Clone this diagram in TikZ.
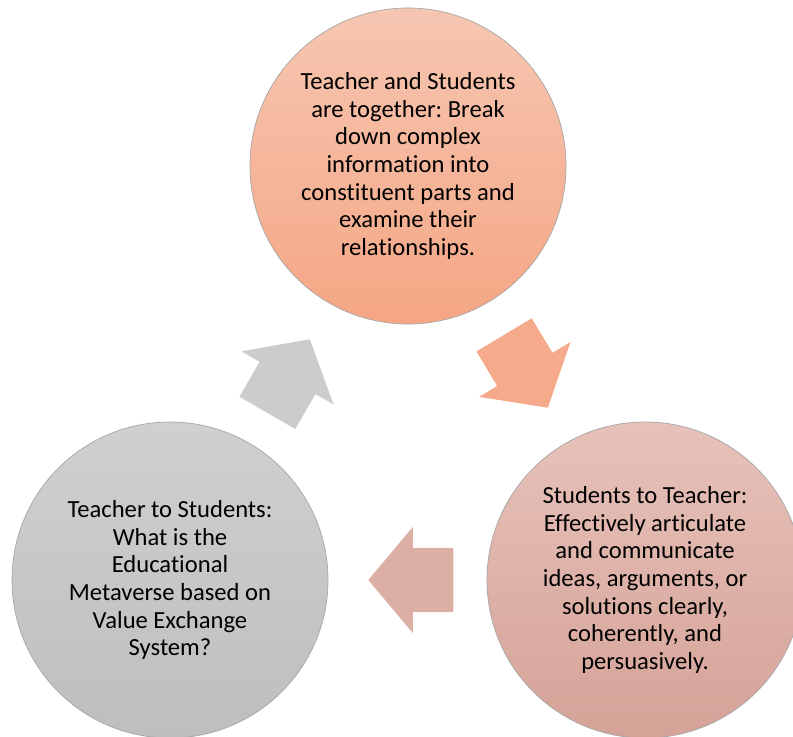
\documentclass[tikz,border=0pt]{standalone}
\usepackage{fontspec}
\setmainfont[Ligatures=NoCommon]{Carlito}
\usetikzlibrary{shapes,arrows}

\definecolor{peachtop}{RGB}{246,198,178}
\definecolor{peachbot}{RGB}{245,166,132}
\definecolor{rosetop}{RGB}{231,194,186}
\definecolor{rosebot}{RGB}{213,162,151}
\definecolor{greytop}{RGB}{208,208,208}
\definecolor{greybot}{RGB}{190,190,190}

\tikzset{
  stage/.style={circle, minimum size=9.48cm, inner sep=0pt, align=center,
    draw=black!35, line width=0.6pt,
    font=\fontsize{21}{23.6}\selectfont},
  blockarrow/.style={single arrow, draw=none, inner xsep=0pt, inner ysep=0.96cm,
    minimum height=2.55cm, minimum width=0pt, anchor=tip,
    single arrow head extend=0.63cm, single arrow tip angle=100}
}
\frenchspacing

\begin{document}
\begin{tikzpicture}[x=0.03cm,y=-0.03cm]
\useasboundingbox (0,0) rectangle (793,737);
\clip (0,0) rectangle (793,737);

% the three stages
\node[stage, top color=peachtop, bottom color=peachbot] (together) at (408,166)
  {Teacher and Students\\are together: Break\\down complex\\information into\\constituent parts and\\examine their\\relationships.};
\node[stage, top color=rosetop, bottom color=rosebot] (back) at (645,580)
  {Students to Teacher:\\Effectively articulate\\and communicate\\ideas, arguments, or\\solutions clearly,\\coherently, and\\persuasively.};
\node[stage, top color=greytop, bottom color=greybot] (start) at (170,580)
  {Teacher to Students:\\What is the\\Educational\\Metaverse based on\\Value Exchange\\System?};

% block arrows between them, placed by their tips
\node[blockarrow, fill=peachbot!85!peachtop, rotate=-59] (toback) at (548,408) {};
\node[blockarrow, fill=rosebot!60!rosetop, rotate=180] (tostart) at (368,580) {};
\node[blockarrow, fill=greytop!80!greybot, rotate=60] (totogether) at (310,339) {};
\end{tikzpicture}
\end{document}
